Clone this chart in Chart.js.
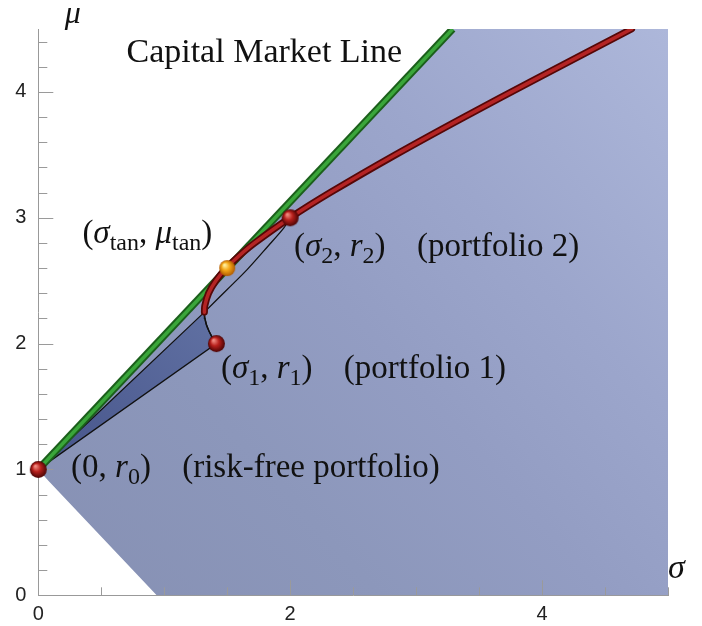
<!DOCTYPE html>
<html>
<head>
<meta charset="utf-8">
<script src="https://cdn.jsdelivr.net/npm/chart.js@4.4.1/dist/chart.umd.min.js"></script>
<style>
  html, body { margin: 0; padding: 0; background: #fff; }
  #wrap { width: 702px; height: 626px; }
</style>
</head>
<body>
<div id="wrap"><canvas id="cml" width="702" height="626"></canvas></div>
<script>
// axes
const sigmaMin = 0, sigmaMax = 5;
const muMin = 0, muMax = 4.5;
const sigmaLabelled = [0, 2, 4];
const muLabelled = [0, 1, 2, 3, 4];

// special portfolios (sigma, mu)
const riskFree = [{x: 0, y: 1}];
const portfolios = [{x: 1.414, y: 2.0}, {x: 2.0, y: 3.0}];
const tangency = [{x: 1.5, y: 2.6}];

// capital market line
const cmlSigma = [0, 3.29];
const cmlMu = [1, 4.5];

// efficient frontier (red)
const frontierMu = [2.25, 2.3, 2.4, 2.5, 2.6, 2.7, 2.8, 3.0, 3.2, 3.5, 3.8, 4.1, 4.5];
const frontierSigma = [1.319, 1.322, 1.352, 1.41, 1.493, 1.597, 1.718, 2.0, 2.318, 2.835, 3.381, 3.945, 4.711];

// lower branch: portfolio 1 up to the minimum variance point
const lowerMu = [2.0, 2.05, 2.1, 2.15, 2.2, 2.25];
const lowerSigma = [1.414, 1.381, 1.355, 1.335, 1.323, 1.319];

// thin black edge from minimum variance point towards portfolio 2
const edgeSigma = [1.319, 1.50, 1.66, 1.82, 1.95, 2.0];
const edgeMu = [2.25, 2.43, 2.59, 2.77, 2.92, 3.0];

// light shaded region outline
const regionSigma = [0, 3.29, 5, 5, 0.94, 0.08, 0];
const regionMu = [1, 4.5, 4.5, 0, 0, 0.91, 1];

const zip = (xs, ys) => xs.map((v, i) => ({x: v, y: ys[i]}));

const darkRegion = [riskFree[0], ...zip(lowerSigma, lowerMu), riskFree[0]];

// text labels: anchor in data units, parts = [text, style]
const labelItems = [
  {at: [0.70, 4.24], size: 34, parts: [['Capital Market Line', 'r']]},
  {at: [0.35, 2.80], size: 33, parts: [['(', 'r'], ['σ', 'i'], ['tan', 's'], [', ', 'r'], ['μ', 'i'], ['tan', 's'], [')', 'r']]},
  {at: [2.03, 2.70], size: 33, parts: [['(', 'r'], ['σ', 'i'], ['2', 's'], [', ', 'r'], ['r', 'i'], ['2', 's'], [')', 'r'], ['', 'g'], ['(portfolio 2)', 'r']]},
  {at: [1.45, 1.73], size: 33, parts: [['(', 'r'], ['σ', 'i'], ['1', 's'], [', ', 'r'], ['r', 'i'], ['1', 's'], [')', 'r'], ['', 'g'], ['(portfolio 1)', 'r']]},
  {at: [0.26, 0.94], size: 33, parts: [['(0, ', 'r'], ['r', 'i'], ['0', 's'], [')', 'r'], ['', 'g'], ['(risk-free portfolio)', 'r']]},
  {at: [0.21, 4.55], size: 32, parts: [['μ', 'i']]},
  {at: [5.0, 0.135], size: 34, parts: [['σ', 'i']]}
];

const serif = '"Liberation Serif", "DejaVu Serif", serif';
const sans = '"Liberation Sans", Arial, sans-serif';

function sphere(r, light, mid, dark) {
  const c = document.createElement('canvas');
  c.width = c.height = r * 2 + 2;
  const g = c.getContext('2d');
  const cx = r + 1, cy = r + 1;
  const grad = g.createRadialGradient(cx - r * 0.35, cy - r * 0.4, r * 0.08, cx, cy, r);
  grad.addColorStop(0, light);
  grad.addColorStop(0.45, mid);
  grad.addColorStop(1, dark);
  g.fillStyle = grad;
  g.beginPath();
  g.arc(cx, cy, r, 0, Math.PI * 2);
  g.fill();
  return c;
}
const redBall = sphere(8.5, '#f08a80', '#b8201c', '#4a0404');
const orangeBall = sphere(8, '#fff0a0', '#f5a818', '#b05a00');

function regionFill(ctx) {
  const ca = ctx.chart.chartArea;
  if (!ca) return '#95a0c4';
  const g = ctx.chart.ctx.createLinearGradient(ca.left, ca.bottom, ca.right, ca.top);
  g.addColorStop(0, '#8690b3');
  g.addColorStop(0.3, '#8c97bb');
  g.addColorStop(0.5, '#939dc3');
  g.addColorStop(0.7, '#9ca6cc');
  g.addColorStop(1, '#adb7da');
  return g;
}
function darkFill(ctx) {
  const ca = ctx.chart.chartArea;
  if (!ca) return '#55659a';
  const x = ctx.chart.scales.x, y = ctx.chart.scales.y;
  const g = ctx.chart.ctx.createLinearGradient(x.getPixelForValue(0), y.getPixelForValue(1), x.getPixelForValue(1.3), y.getPixelForValue(2.3));
  g.addColorStop(0, '#46548a');
  g.addColorStop(1, '#6070a2');
  return g;
}

// inward tick marks, drawn right after the light region
const innerTicks = {
  id: 'innerTicks',
  afterDatasetDraw(chart, args) {
    if (args.index !== 0) return;
    const {ctx, chartArea, scales: {x, y}} = chart;
    ctx.save();
    ctx.strokeStyle = '#9a9a9a';
    ctx.lineWidth = 1;
    x.ticks.forEach(t => {
      const px = Math.round(x.getPixelForValue(t.value)) + 0.5;
      const len = sigmaLabelled.includes(t.value) ? 15 : 8;
      ctx.beginPath();
      ctx.moveTo(px, chartArea.bottom);
      ctx.lineTo(px, chartArea.bottom - len);
      ctx.stroke();
    });
    y.ticks.forEach(t => {
      const py = Math.round(y.getPixelForValue(t.value)) + 0.5;
      const major = Math.abs(t.value - Math.round(t.value)) < 1e-6;
      const len = major ? 15 : 9;
      ctx.beginPath();
      ctx.moveTo(chartArea.left, py);
      ctx.lineTo(chartArea.left + len, py);
      ctx.stroke();
    });
    ctx.restore();
  }
};

const textLabels = {
  id: 'textLabels',
  afterDraw(chart) {
    const {ctx, scales: {x, y}} = chart;
    ctx.save();
    ctx.fillStyle = '#111';
    ctx.textBaseline = 'alphabetic';
    labelItems.forEach(item => {
      let px = x.getPixelForValue(item.at[0]);
      const py = y.getPixelForValue(item.at[1]);
      item.parts.forEach(([txt, st]) => {
        if (st === 'g') { px += item.size * 0.95; return; }
        let size = item.size, dy = 0, style = '';
        if (st === 'i') style = 'italic ';
        if (st === 's') { size = Math.round(item.size * 0.72); dy = item.size * 0.22; }
        ctx.font = style + size + 'px ' + serif;
        ctx.fillText(txt, px, py + dy);
        px += ctx.measureText(txt).width;
      });
    });
    ctx.restore();
  }
};

new Chart(document.getElementById('cml'), {
  type: 'line',
  data: {
    datasets: [
      { // light region
        data: zip(regionSigma, regionMu), order: 9, fill: 'shape',
        backgroundColor: regionFill, borderWidth: 0, pointRadius: 0, tension: 0
      },
      { // dark region
        data: darkRegion, order: 8, fill: 'shape',
        backgroundColor: darkFill, borderColor: '#111', borderWidth: 1.3, pointRadius: 0, tension: 0
      },
      { // black lower branch
        data: zip(lowerSigma, lowerMu), order: 7, fill: false,
        borderColor: '#111', borderWidth: 1.5, pointRadius: 0, tension: 0.3
      },
      { // black edge to portfolio 2
        data: zip(edgeSigma, edgeMu), order: 6, fill: false,
        borderColor: '#111', borderWidth: 1.3, pointRadius: 0, tension: 0.3
      },
      { // CML outer
        data: zip(cmlSigma, cmlMu), order: 5, fill: false,
        borderColor: '#1b5f1b', borderWidth: 7.5, pointRadius: 0
      },
      { // CML inner
        data: zip(cmlSigma, cmlMu), order: 4, fill: false,
        borderColor: '#3aa63a', borderWidth: 3.5, pointRadius: 0
      },
      { // frontier outer
        data: zip(frontierSigma, frontierMu), order: 3, fill: false,
        borderColor: '#560707', borderWidth: 7, borderCapStyle: 'round', pointRadius: 0, tension: 0.3
      },
      { // frontier inner
        data: zip(frontierSigma, frontierMu), order: 2, fill: false,
        borderColor: '#b42424', borderWidth: 3.5, borderCapStyle: 'round', pointRadius: 0, tension: 0.3
      },
      { // red balls
        data: [...riskFree, ...portfolios], order: 1, showLine: false, clip: false,
        pointStyle: redBall, pointRadius: 8
      },
      { // tangency ball
        data: tangency, order: 0, showLine: false, clip: false,
        pointStyle: orangeBall, pointRadius: 8
      }
    ]
  },
  options: {
    responsive: false,
    animation: false,
    events: [],
    layout: { padding: { top: 29, right: 34, left: 0, bottom: 0 } },
    plugins: { legend: { display: false }, tooltip: { enabled: false } },
    scales: {
      x: {
        type: 'linear', min: sigmaMin, max: sigmaMax,
        afterFit: s => { s.height = 30.7; },
        grid: { display: false, drawTicks: false },
        border: { color: '#999', width: 1 },
        ticks: {
          stepSize: 0.5, autoSkip: false, maxRotation: 0, padding: 7,
          color: '#222', font: { family: sans, size: 20 },
          callback: v => sigmaLabelled.includes(v) ? String(v) : ''
        }
      },
      y: {
        type: 'linear', min: muMin, max: muMax,
        afterFit: s => { s.width = 38.3; },
        grid: { display: false, drawTicks: false },
        border: { color: '#999', width: 1 },
        ticks: {
          stepSize: 0.2, autoSkip: false, includeBounds: false, padding: 12,
          color: '#222', font: { family: sans, size: 20 },
          callback: v => muLabelled.some(m => Math.abs(m - v) < 1e-6) ? String(Math.round(v)) : ''
        }
      }
    }
  },
  plugins: [innerTicks, textLabels]
});
</script>
</body>
</html>
